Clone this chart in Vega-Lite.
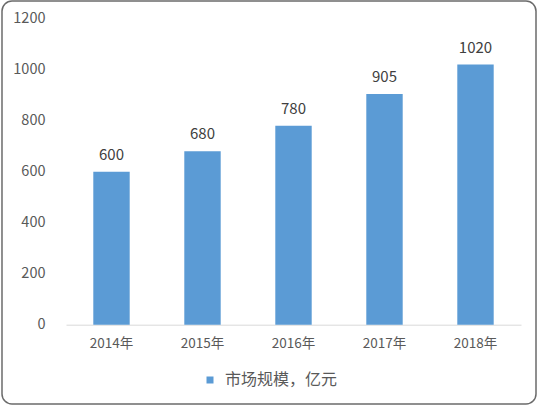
{
  "$schema": "https://vega.github.io/schema/vega-lite/v6.json",
  "autosize": {"type": "none"},
  "padding": {"left": 2, "top": 1, "right": 3, "bottom": 4},
  "width": 534,
  "height": 403,
  "background": "white",
  "config": {
    "view": {"stroke": "#6b6b6b", "strokeWidth": 1.5, "cornerRadius": 10, "fill": "white"},
    "font": "Noto Sans CJK SC"
  },
  "data": {
    "values": [
      {"year": "2014年", "value": 600, "series": "市场规模，亿元"},
      {"year": "2015年", "value": 680, "series": "市场规模，亿元"},
      {"year": "2016年", "value": 780, "series": "市场规模，亿元"},
      {"year": "2017年", "value": 905, "series": "市场规模，亿元"},
      {"year": "2018年", "value": 1020, "series": "市场规模，亿元"}
    ]
  },
  "encoding": {
    "x": {
      "field": "year",
      "type": "nominal",
      "sort": null,
      "title": null,
      "scale": {"range": [64, 519], "paddingInner": 0.6, "paddingOuter": 0.3},
      "axis": {
        "orient": "bottom",
        "offset": -79.3,
        "labelAngle": 0,
        "ticks": false,
        "domainColor": "#D9D9D9",
        "domainWidth": 1,
        "labelColor": "#595959",
        "labelFontSize": 13.5,
        "labelPadding": 12,
        "grid": false
      }
    },
    "y": {
      "field": "value",
      "type": "quantitative",
      "title": null,
      "scale": {"domain": [0, 1200], "range": [323.7, 17.7], "nice": false},
      "axis": {
        "orient": "left",
        "offset": -46,
        "values": [0, 200, 400, 600, 800, 1000, 1200],
        "format": "d",
        "domain": false,
        "ticks": false,
        "grid": false,
        "labelColor": "#595959",
        "labelFontSize": 14.5,
        "labelPadding": 3
      }
    }
  },
  "layer": [
    {
      "mark": {"type": "bar"},
      "encoding": {
        "color": {
          "field": "series",
          "type": "nominal",
          "scale": {"range": ["#5B9BD5"]},
          "legend": {
            "title": null,
            "orient": "none",
            "legendX": 200,
            "legendY": 371,
            "symbolType": "square",
            "symbolSize": 49,
            "symbolStrokeWidth": 0,
            "labelFontSize": 16,
            "labelColor": "#595959",
            "labelOffset": 7
          }
        }
      }
    },
    {
      "mark": {"type": "text", "baseline": "alphabetic", "dy": -12, "fontSize": 15, "color": "#404040"},
      "encoding": {
        "text": {"field": "value", "type": "quantitative"}
      }
    }
  ]
}
